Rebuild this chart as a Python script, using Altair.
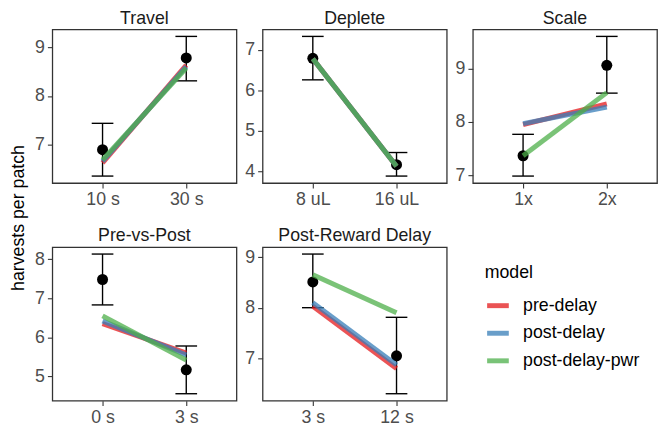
import math
import altair as alt
import pandas as pd

conditions = ["Travel", "Deplete", "Scale", "Pre-vs-Post", "Post-Reward Delay"]
levels = [["10 s", "30 s"], ["8 uL", "16 uL"], ["1x", "2x"], ["0 s", "3 s"], ["3 s", "12 s"]]

data_mean = [[6.90, 8.78], [6.79, 4.17], [7.37, 9.06], [7.48, 5.17], [8.51, 7.05]]
data_lo = [[6.36, 8.31], [6.26, 3.89], [6.99, 8.54], [6.83, 4.56], [8.00, 6.30]]
data_hi = [[7.44, 9.22], [7.33, 4.47], [7.77, 9.60], [8.13, 5.78], [9.06, 7.81]]

models = ["pre-delay", "post-delay", "post-delay-pwr"]
model_colors = ["#E41A1C", "#377EB8", "#4DAF4A"]
pred_pre = [[6.63, 8.63], [6.78, 4.13], [7.95, 8.34], [6.35, 5.60], [8.03, 6.80]]
pred_post = [[6.66, 8.60], [6.78, 4.13], [7.97, 8.28], [6.42, 5.55], [8.10, 6.87]]
pred_pwr = [[6.69, 8.57], [6.78, 4.13], [7.37, 8.55], [6.55, 5.42], [8.65, 7.90]]

FONT = "Liberation Sans"
W, H = 187, 156

color_enc = alt.Color(
    "model:N",
    scale=alt.Scale(domain=models, range=model_colors),
    legend=alt.Legend(
        title="model",
        orient="none",
        legendX=439,
        legendY=238,
        padding=0,
        symbolType="stroke",
        symbolStrokeWidth=5,
        symbolSize=484,
        symbolOpacity=0.75,
        labelFontSize=18,
        titleFontSize=18,
        titleFontWeight="normal",
        titleColor="black",
        labelColor="black",
        labelFont=FONT,
        titleFont=FONT,
        labelOffset=12,
        rowPadding=4,
        titlePadding=11,
    ),
)


def panel(i):
    lv = levels[i]
    obs = pd.DataFrame({"level": lv, "mean": data_mean[i], "lo": data_lo[i], "hi": data_hi[i]})
    preds = pd.DataFrame({
        "level": lv * 3,
        "model": [m for m in models for _ in lv],
        "value": pred_pre[i] + pred_post[i] + pred_pwr[i],
    })
    allv = data_lo[i] + data_hi[i] + data_mean[i] + pred_pre[i] + pred_post[i] + pred_pwr[i]
    lo, hi = min(allv), max(allv)
    pad = 0.05 * (hi - lo)
    dom = [lo - pad, hi + pad]
    ticks = list(range(math.ceil(dom[0]), math.floor(dom[1]) + 1))

    x = alt.X("level:N", sort=lv, scale=alt.Scale(type="point", padding=0.6),
              axis=alt.Axis(title=None, labelAngle=0, labelPadding=3))
    yscale = alt.Scale(domain=dom, nice=False, zero=False)
    yaxis = alt.Axis(title=None, values=ticks, format="d", labelPadding=3)

    base = alt.Chart(obs)
    rule = base.mark_rule(color="black", strokeWidth=1.4).encode(
        x=x, y=alt.Y("lo:Q", scale=yscale, axis=yaxis), y2="hi:Q")
    cap_lo = base.mark_tick(color="black", size=22, thickness=1.4, opacity=1).encode(x=x, y="lo:Q")
    cap_hi = base.mark_tick(color="black", size=22, thickness=1.4, opacity=1).encode(x=x, y="hi:Q")
    pts = base.mark_circle(size=125, color="black", opacity=1).encode(x=x, y="mean:Q")
    lines = alt.Chart(preds).mark_line(strokeWidth=5, opacity=0.75).encode(
        x=x, y="value:Q", color=color_enc)
    return alt.layer(rule, cap_lo, cap_hi, pts, lines).properties(
        width=W, height=H, title=alt.TitleParams(conditions[i]))


chart = alt.concat(
    *[panel(i) for i in range(len(conditions))],
    columns=3,
    spacing={"row": 65, "column": 26.5},
    bounds="flush",
).properties(
    title=alt.TitleParams("harvests per patch", orient="left", anchor="middle",
                          fontSize=18, font=FONT, color="black", fontWeight="normal", offset=6),
    padding={"left": 2, "top": -2.5, "right": 0, "bottom": 0},
).configure_view(
    stroke="#333333", strokeWidth=1.3
).configure_axis(
    labelFont=FONT, labelFontSize=18, labelColor="#4D4D4D",
    tickColor="#333333", tickSize=5, tickWidth=1.1, domain=False, grid=False,
).configure_title(
    font=FONT, fontSize=18, fontWeight="normal", color="#1A1A1A", offset=2
)

chart.save("out.html", embed_options={"renderer": "svg", "actions": False})
